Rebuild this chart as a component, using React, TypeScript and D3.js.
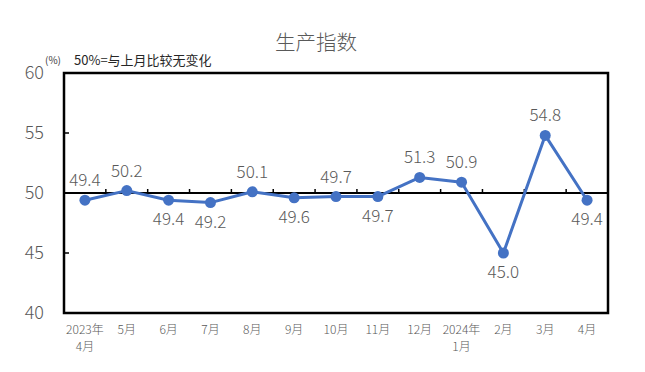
import React, { useEffect, useRef } from 'react';
import * as d3 from 'd3';

const months = ['2023年\n4月', '5月', '6月', '7月', '8月', '9月', '10月', '11月', '12月', '2024年\n1月', '2月', '3月', '4月'];
const values = [49.4, 50.2, 49.4, 49.2, 50.1, 49.6, 49.7, 49.7, 51.3, 50.9, 45.0, 54.8, 49.4];
// label above (true) or below (false) the point
const labelAbove = [true, true, false, false, true, false, true, false, true, true, false, true, false];
const yTicks = [40, 45, 50, 55, 60];

const W = 645;
const H = 372;
const FONT = '"Noto Sans CJK SC", "Noto Sans", sans-serif';

const App: React.FC = () => {
  const svgRef = useRef<SVGSVGElement>(null);

  useEffect(() => {
    if (!svgRef.current) return;
    const svg = d3.select(svgRef.current);
    svg.selectAll('*').remove();

    const margin = { top: 73, right: 37, bottom: 59, left: 64 };
    const width = W - margin.left - margin.right;
    const height = H - margin.top - margin.bottom;

    const x = d3.scaleBand<number>().domain(d3.range(months.length)).range([0, width]);
    const y = d3.scaleLinear().domain([40, 60]).range([height, 0]);

    // title
    svg.append('text')
      .attr('x', 316).attr('y', 50)
      .attr('text-anchor', 'middle')
      .attr('font-size', 20.5).attr('fill', '#595959')
      .attr('font-weight', 300)
      .attr('font-family', FONT)
      .text('生产指数');

    svg.append('text')
      .attr('x', 45).attr('y', 64)
      .attr('font-size', 10).attr('fill', '#404040')
      .attr('font-family', FONT)
      .text('(%)');

    svg.append('text')
      .attr('x', 74).attr('y', 65)
      .attr('font-size', 13).attr('fill', '#262626')
      .attr('font-family', FONT)
      .text('50%=与上月比较无变化');

    const g = svg.append('g').attr('transform', `translate(${margin.left},${margin.top})`);

    // y tick labels
    g.selectAll('.ylab')
      .data(yTicks)
      .enter()
      .append('text')
      .attr('x', -20).attr('y', d => y(d))
      .attr('dy', '0.35em')
      .attr('text-anchor', 'end')
      .attr('font-size', 18).attr('fill', '#595959')
      .attr('font-weight', 300)
      .attr('font-family', FONT)
      .text(d => d);

    // small inner y ticks
    g.selectAll('.ytick')
      .data(yTicks.filter(d => d !== 40 && d !== 60))
      .enter()
      .append('line')
      .attr('x1', 0).attr('x2', 5)
      .attr('y1', d => y(d)).attr('y2', d => y(d))
      .attr('stroke', '#000').attr('stroke-width', 1.5);

    // 50 line
    g.append('line')
      .attr('x1', 0).attr('x2', width)
      .attr('y1', y(50)).attr('y2', y(50))
      .attr('stroke', '#000').attr('stroke-width', 2);

    // category ticks on the 50 line
    g.selectAll('.xtick')
      .data(d3.range(1, months.length))
      .enter()
      .append('line')
      .attr('x1', d => x(d)!).attr('x2', d => x(d)!)
      .attr('y1', y(50)).attr('y2', y(50) - 4)
      .attr('stroke', '#000').attr('stroke-width', 1.5);

    // frame
    g.append('rect')
      .attr('x', 0).attr('y', 0)
      .attr('width', width).attr('height', height)
      .attr('fill', 'none')
      .attr('stroke', '#000').attr('stroke-width', 2.5);

    // x labels
    const xl = g.selectAll('.xlab')
      .data(months)
      .enter()
      .append('text')
      .attr('text-anchor', 'middle')
      .attr('font-size', 12).attr('fill', '#595959')
      .attr('font-weight', 300)
      .attr('font-family', FONT)
      .attr('transform', (_, i) => `translate(${x(i)! + x.bandwidth() / 2},${height + 21})`);
    xl.each(function (d) {
      const parts = d.split('\n');
      parts.forEach((p, j) => {
        d3.select(this).append('tspan')
          .attr('x', 0).attr('y', j * 17)
          .text(p);
      });
    });

    const cx = (i: number) => x(i)! + x.bandwidth() / 2;

    const line = d3.line<number>()
      .x((_, i) => cx(i))
      .y(d => y(d));

    g.append('path')
      .datum(values)
      .attr('fill', 'none')
      .attr('stroke', '#4472C4')
      .attr('stroke-width', 3)
      .attr('stroke-linejoin', 'round')
      .attr('d', line);

    g.selectAll('.dot')
      .data(values)
      .enter()
      .append('circle')
      .attr('cx', (_, i) => cx(i))
      .attr('cy', d => y(d))
      .attr('r', 5.5)
      .attr('fill', '#4472C4');

    g.selectAll('.vlab')
      .data(values)
      .enter()
      .append('text')
      .attr('x', (_, i) => cx(i))
      .attr('y', (d, i) => labelAbove[i] ? y(d) - 20 : y(d) + 19)
      .attr('dy', '0.35em')
      .attr('text-anchor', 'middle')
      .attr('font-size', 17).attr('fill', '#595959')
      .attr('font-weight', 300)
      .attr('font-family', FONT)
      .text(d => d.toFixed(1));
  }, []);

  return (
    <div style={{ position: 'fixed', left: 0, top: 0, width: W, height: H, background: '#fff' }}>
      <svg ref={svgRef} width={W} height={H} style={{ display: 'block' }} />
    </div>
  );
};

export default App;
